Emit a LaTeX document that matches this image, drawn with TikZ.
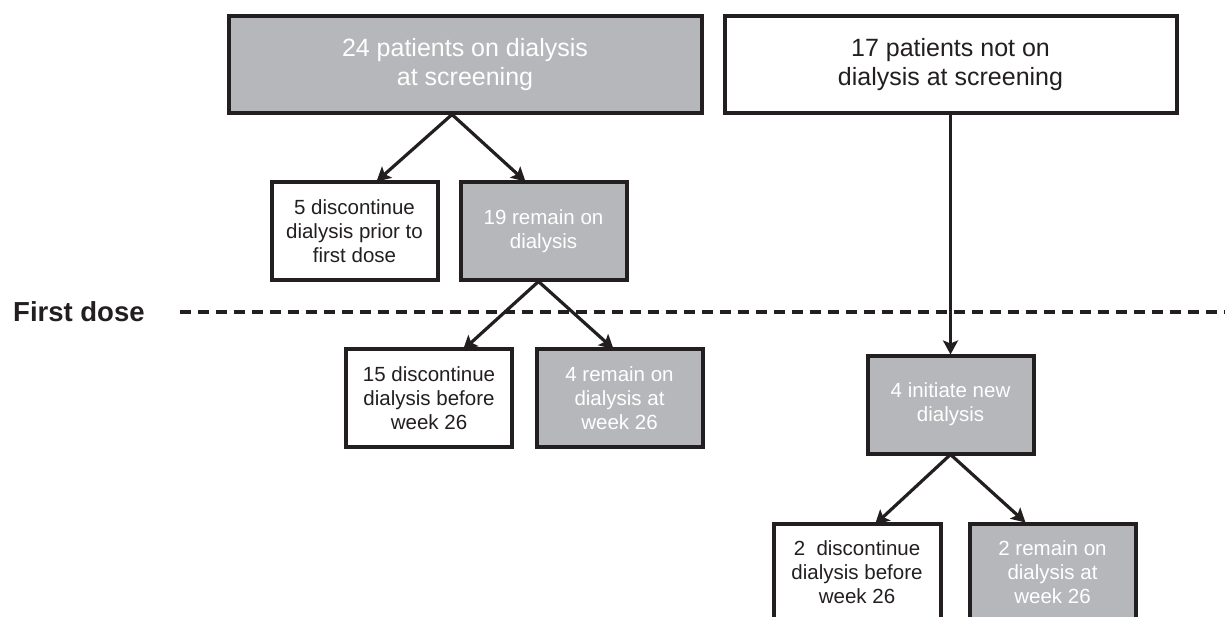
\documentclass[tikz,border=0pt]{standalone}
\usepackage{fontspec}
\setmainfont{Liberation Sans}
\usetikzlibrary{arrows.meta}
\definecolor{boxgray}{RGB}{182,183,186}
\definecolor{ink}{RGB}{35,31,32}
\tikzset{
  basebox/.style={draw=ink, line width=4pt, rectangle, inner sep=0pt, align=center},
  graybox/.style={basebox, fill=boxgray, text=white},
  whitebox/.style={basebox, fill=white, text=ink},
  bigbox/.style={minimum height=97pt, font=\fontsize{25}{29}\selectfont},
  smallbox/.style={minimum width=166pt, minimum height=98pt, font=\fontsize{20.5}{24}\selectfont},
  arr/.style={draw=ink, line width=3.2pt, -{Stealth[length=14pt,width=15pt,inset=3pt]}},
  doseline/.style={draw=ink, line width=3.3pt, dash pattern=on 11pt off 7pt}
}
\begin{document}
\begin{tikzpicture}[x=1pt,y=-1pt]
\useasboundingbox (0,0) rectangle (1225,617);
\clip (0,0) rectangle (1225,617);
\fill[white] (0,0) rectangle (1225,617);

\node[graybox,bigbox,minimum width=473pt] (A) at (465,65) {24 patients on dialysis\\at screening};
\node[whitebox,bigbox,minimum width=452pt] (B) at (950.5,65) {17 patients not on\\dialysis at screening};

\node[whitebox,smallbox] (C) at (354.5,231.5) {5 discontinue\\dialysis prior to\\first dose};
\node[graybox,smallbox] (D) at (543.5,231.5) {19 remain on\\dialysis};

\node[whitebox,smallbox] (E) at (429,398) {15 discontinue\\dialysis before\\week 26};
\node[graybox,smallbox] (F) at (619.5,398) {4 remain on\\dialysis at\\week 26};

\node[graybox,smallbox] (G) at (950.5,404.5) {4 initiate new\\dialysis};

\node[whitebox,smallbox,minimum width=167pt] (H) at (857,572.5) {2~ discontinue\\dialysis before\\week 26};
\node[graybox,smallbox] (I) at (1052.5,572.5) {2 remain on\\dialysis at\\week 26};

\node[anchor=base west, inner sep=0pt, text=ink, font=\fontsize{27.5}{31}\selectfont\bfseries] (fd) at (13,322) {First dose};
\coordinate (dl) at (180,312);
\coordinate (dr) at (1225,312);
\draw[doseline] (dl) -- (dr);

\coordinate (a0) at ([xshift=-13pt,yshift=1pt]A.south);
\draw[arr] (a0) -- ([xshift=22pt,yshift=-1pt]C.north);
\draw[arr] (a0) -- ([xshift=-18pt,yshift=-1pt]D.north);

\coordinate (d0) at ([xshift=-5pt,yshift=1pt]D.south);
\draw[arr] (d0) -- ([xshift=34pt,yshift=-3pt]E.north);
\draw[arr] (d0) -- ([xshift=-6pt,yshift=-2pt]F.north);

\draw[arr] ([yshift=1pt]B.south) -- ([yshift=-1pt]G.north);

\coordinate (g0) at ([yshift=1pt]G.south);
\draw[arr] (g0) -- ([xshift=18pt,yshift=-3pt]H.north);
\draw[arr] (g0) -- ([xshift=-27pt,yshift=-1pt]I.north);
\end{tikzpicture}
\end{document}
